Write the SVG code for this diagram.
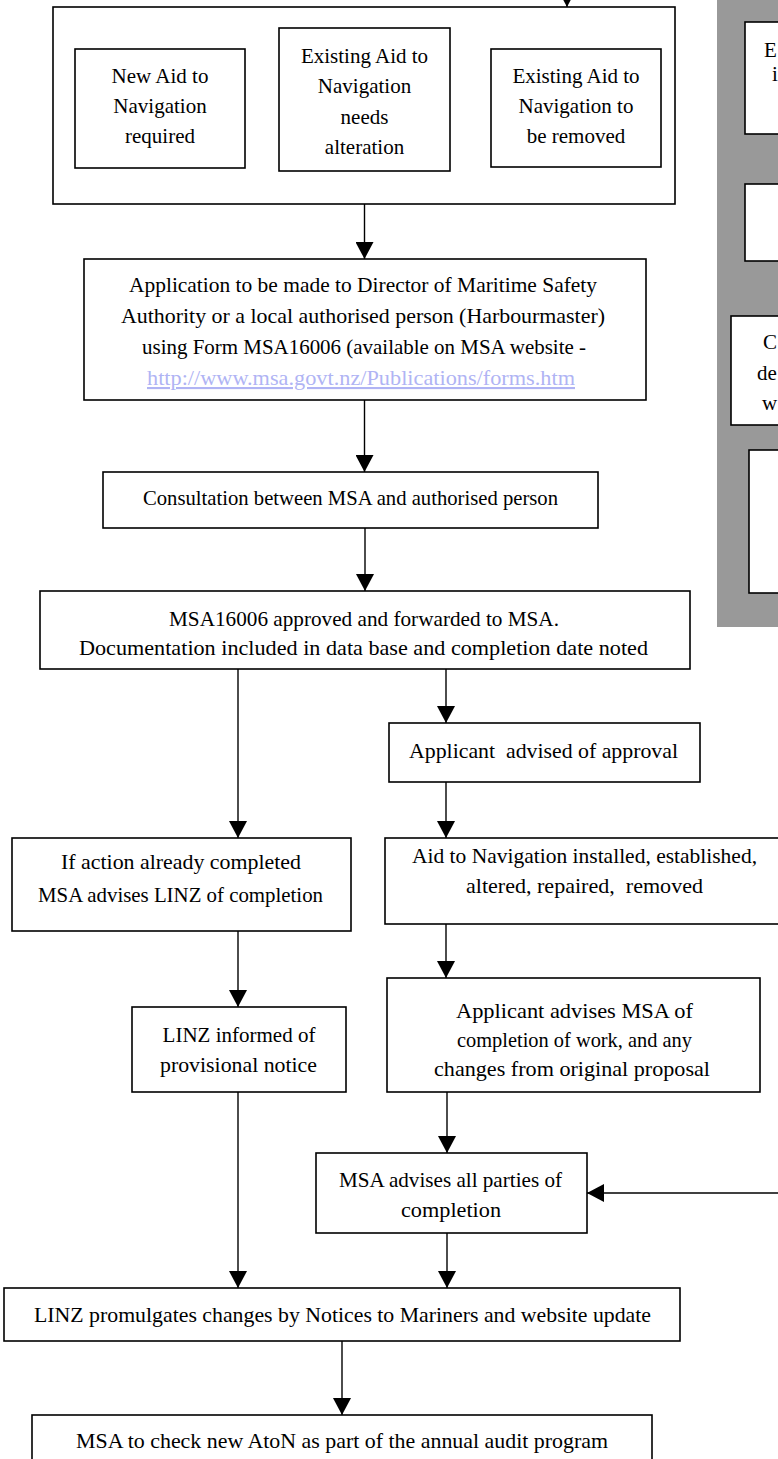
<svg xmlns="http://www.w3.org/2000/svg" width="778" height="1459" viewBox="0 0 778 1459">
<style>
.bg{fill:#ffffff}
.box{fill:#ffffff;stroke:#000000;stroke-width:1.6}
.grey{fill:#999999}
.t{font-family:"Liberation Serif","Times New Roman",serif;font-size:21px;fill:#000000;text-anchor:middle}
.ts{font-family:"Liberation Serif","Times New Roman",serif;font-size:21px;fill:#000000;text-anchor:start}
.lnk{fill:#b0b4f4;text-decoration:underline}
.c{stroke:#000000;stroke-width:1.4;fill:none;marker-end:url(#ah)}
</style>
<defs>
<marker id="ah" markerUnits="userSpaceOnUse" markerWidth="17" markerHeight="18" refX="17" refY="9" orient="auto" viewBox="0 0 17 18">
<path d="M0,0 L17,9 L0,18 Z" fill="#000000"/>
</marker>
</defs>
<rect class="bg" x="0" y="0" width="778" height="1459"/>

<g id="grey-panel">
<rect class="grey" x="717" y="0" width="70" height="627"/>
<rect class="box" x="745" y="22" width="50" height="112"/>
<text class="ts" x="764" y="57">E</text>
<text class="ts" x="772" y="81">i</text>
<rect class="box" x="745" y="184" width="50" height="77"/>
<rect class="box" x="731" y="316" width="60" height="109"/>
<text class="ts" x="763" y="349">C</text>
<text class="ts" x="757" y="380">de</text>
<text class="ts" x="762" y="410">w</text>
<rect class="box" x="749" y="450" width="50" height="143"/>
</g>

<g id="connectors">
<line class="c" x1="567" y1="-30" x2="567" y2="7"/>
<line class="c" x1="364.5" y1="204" x2="364.5" y2="259"/>
<line class="c" x1="364.5" y1="400" x2="364.5" y2="472"/>
<line class="c" x1="365" y1="528" x2="365" y2="591"/>
<line class="c" x1="238" y1="669" x2="238" y2="838"/>
<line class="c" x1="446" y1="669" x2="446" y2="723"/>
<line class="c" x1="446" y1="782" x2="446" y2="838"/>
<line class="c" x1="238" y1="931" x2="238" y2="1007"/>
<line class="c" x1="446" y1="924" x2="446" y2="978"/>
<line class="c" x1="238" y1="1092" x2="238" y2="1288"/>
<line class="c" x1="447" y1="1092" x2="447" y2="1153"/>
<line class="c" x1="447" y1="1233" x2="447" y2="1288"/>
<line class="c" x1="790" y1="1193" x2="587" y2="1193"/>
<line class="c" x1="342" y1="1341" x2="342" y2="1415"/>
</g>

<g id="outer-group">
<rect class="box" x="53" y="7" width="622" height="197"/>
</g>
<g id="new-aid">
<rect class="box" x="75" y="49" width="170" height="119"/>
<text class="t" x="160" y="83">New Aid to</text>
<text class="t" x="160" y="113">Navigation</text>
<text class="t" x="160" y="143">required</text>
</g>
<g id="existing-alter">
<rect class="box" x="279" y="28" width="171" height="143"/>
<text class="t" x="364.5" y="63">Existing Aid to</text>
<text class="t" x="364.5" y="93">Navigation</text>
<text class="t" x="364.5" y="124">needs</text>
<text class="t" x="364.5" y="154">alteration</text>
</g>
<g id="existing-remove">
<rect class="box" x="491" y="49" width="170" height="118"/>
<text class="t" x="576" y="83">Existing Aid to</text>
<text class="t" x="576" y="113">Navigation to</text>
<text class="t" x="576" y="143">be removed</text>
</g>
<g id="application">
<rect class="box" x="84" y="259" width="562" height="141"/>
<text class="t" x="363" y="292" textLength="468" lengthAdjust="spacingAndGlyphs">Application to be made to Director of Maritime Safety</text>
<text class="t" x="363" y="323" textLength="484" lengthAdjust="spacingAndGlyphs">Authority or a local authorised person (Harbourmaster)</text>
<text class="t" x="364" y="354" textLength="444" lengthAdjust="spacingAndGlyphs">using Form MSA16006 (available on MSA website -</text>
<text class="t lnk" x="361" y="385" textLength="428" lengthAdjust="spacingAndGlyphs">http://www.msa.govt.nz/Publications/forms.htm</text>
</g>
<g id="consultation">
<rect class="box" x="103" y="472" width="495" height="56"/>
<text class="t" x="350.5" y="505" textLength="415" lengthAdjust="spacingAndGlyphs">Consultation between MSA and authorised person</text>
</g>
<g id="approved">
<rect class="box" x="40" y="591" width="650" height="78"/>
<text class="t" x="364" y="626" textLength="390" lengthAdjust="spacingAndGlyphs">MSA16006 approved and forwarded to MSA.</text>
<text class="t" x="363.5" y="655" textLength="569" lengthAdjust="spacingAndGlyphs">Documentation included in data base and completion date noted</text>
</g>
<g id="advised">
<rect class="box" x="389" y="723" width="311" height="59"/>
<text class="t" x="543.5" y="758" xml:space="preserve" textLength="269" lengthAdjust="spacingAndGlyphs">Applicant  advised of approval</text>
</g>
<g id="if-action">
<rect class="box" x="12" y="838" width="339" height="93"/>
<text class="t" x="181" y="869" textLength="240" lengthAdjust="spacingAndGlyphs">If action already completed</text>
<text class="t" x="180.5" y="902" textLength="285" lengthAdjust="spacingAndGlyphs">MSA advises LINZ of completion</text>
</g>
<g id="installed">
<rect class="box" x="385" y="838" width="399" height="86"/>
<text class="t" x="584.5" y="863" textLength="345" lengthAdjust="spacingAndGlyphs">Aid to Navigation installed, established,</text>
<text class="t" x="584.5" y="893" xml:space="preserve" textLength="237" lengthAdjust="spacingAndGlyphs">altered, repaired,  removed</text>
</g>
<g id="linz-informed">
<rect class="box" x="132" y="1007" width="214" height="85"/>
<text class="t" x="239" y="1042">LINZ informed of</text>
<text class="t" x="238.5" y="1072" textLength="157" lengthAdjust="spacingAndGlyphs">provisional notice</text>
</g>
<g id="applicant-advises">
<rect class="box" x="387" y="978" width="373" height="114"/>
<text class="t" x="574.5" y="1018" textLength="237" lengthAdjust="spacingAndGlyphs">Applicant advises MSA of</text>
<text class="t" x="574.5" y="1047" textLength="235" lengthAdjust="spacingAndGlyphs">completion of work, and any</text>
<text class="t" x="572" y="1076" textLength="276" lengthAdjust="spacingAndGlyphs">changes from original proposal</text>
</g>
<g id="msa-advises">
<rect class="box" x="316" y="1153" width="271" height="80"/>
<text class="t" x="450.5" y="1187" textLength="223" lengthAdjust="spacingAndGlyphs">MSA advises all parties of</text>
<text class="t" x="451" y="1217" textLength="100" lengthAdjust="spacingAndGlyphs">completion</text>
</g>
<g id="linz-promulgates">
<rect class="box" x="4" y="1288" width="676" height="53"/>
<text class="t" x="342.5" y="1322" textLength="617" lengthAdjust="spacingAndGlyphs">LINZ promulgates changes by Notices to Mariners and website update</text>
</g>
<g id="msa-check">
<rect class="box" x="32" y="1415" width="620" height="70"/>
<text class="t" x="342" y="1448" textLength="532" lengthAdjust="spacingAndGlyphs">MSA to check new AtoN as part of the annual audit program</text>
</g>
</svg>
